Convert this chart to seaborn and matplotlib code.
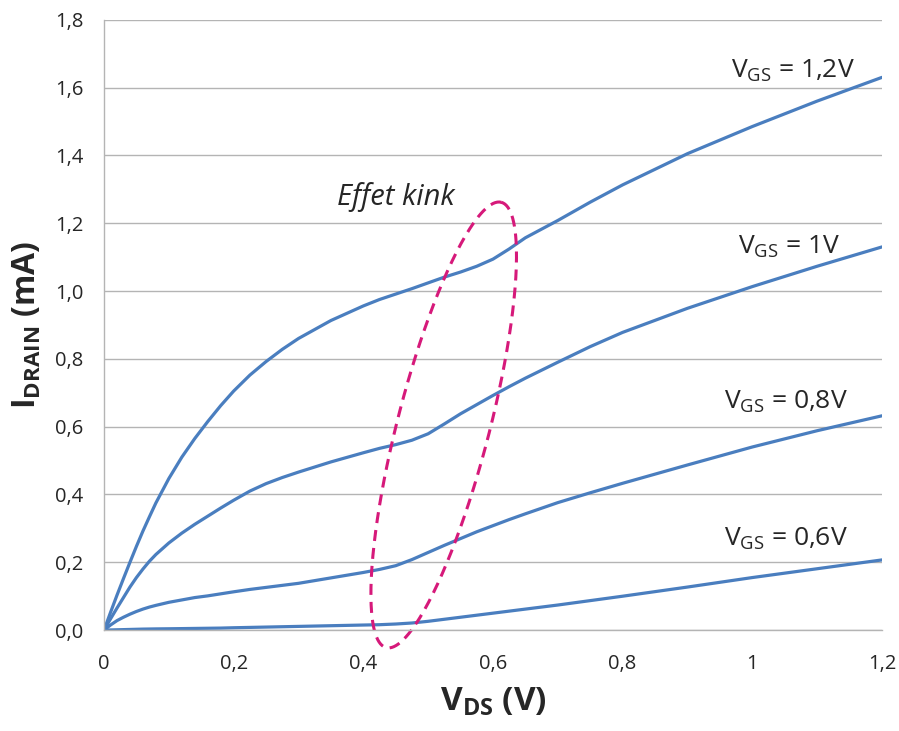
import numpy as np
import pandas as pd
import matplotlib
matplotlib.use('Agg')
import matplotlib.pyplot as plt
import seaborn as sns

# Drain current curves (mA), one list per gate voltage
vds = [0, 0.01, 0.02, 0.03, 0.04, 0.05, 0.06, 0.07, 0.08, 0.1, 0.12, 0.14, 0.16, 0.18,
       0.2, 0.225, 0.25, 0.275, 0.3, 0.35, 0.4, 0.425, 0.45, 0.475, 0.5, 0.525, 0.55,
       0.575, 0.6, 0.625, 0.65, 0.7, 0.75, 0.8, 0.9, 1.0, 1.1, 1.2]
id_12 = [0, 0.052, 0.103, 0.152, 0.2, 0.247, 0.292, 0.334, 0.375, 0.447, 0.51, 0.565,
         0.615, 0.662, 0.705, 0.752, 0.792, 0.828, 0.86, 0.913, 0.956, 0.975, 0.991,
         1.007, 1.024, 1.041, 1.056, 1.073, 1.094, 1.124, 1.157, 1.208, 1.262, 1.313,
         1.405, 1.485, 1.56, 1.63]
id_10 = [0, 0.033, 0.065, 0.096, 0.127, 0.155, 0.18, 0.203, 0.223, 0.257, 0.286, 0.312,
         0.336, 0.36, 0.383, 0.41, 0.432, 0.45, 0.466, 0.496, 0.523, 0.536, 0.547,
         0.56, 0.579, 0.608, 0.638, 0.665, 0.692, 0.718, 0.743, 0.79, 0.836, 0.878,
         0.949, 1.013, 1.073, 1.13]
id_08 = [0, 0.015, 0.028, 0.038, 0.047, 0.055, 0.062, 0.068, 0.073, 0.082, 0.089, 0.096,
         0.101, 0.107, 0.113, 0.12, 0.126, 0.132, 0.138, 0.154, 0.17, 0.179, 0.19,
         0.208, 0.229, 0.25, 0.27, 0.29, 0.308, 0.326, 0.343, 0.376, 0.405, 0.433,
         0.487, 0.54, 0.588, 0.632]
id_06 = [0, 0.0005, 0.001, 0.0015, 0.002, 0.0025, 0.003, 0.0033, 0.0036, 0.004, 0.0045,
         0.005, 0.0055, 0.006, 0.007, 0.008, 0.009, 0.01, 0.011, 0.013, 0.015, 0.016,
         0.018, 0.021, 0.026, 0.032, 0.038, 0.044, 0.05, 0.056, 0.062, 0.074, 0.087,
         0.1, 0.127, 0.155, 0.181, 0.207]

curve_labels = ['1,2V', '1V', '0,8V', '0,6V']
label_x = [1.158, 1.135, 1.148, 1.148]
label_y = [1.629, 1.112, 0.655, 0.251]

x_ticks = [0, 0.2, 0.4, 0.6, 0.8, 1.0, 1.2]
x_ticklabels = ['0', '0,2', '0,4', '0,6', '0,8', '1', '1,2']
y_ticks = [0, 0.2, 0.4, 0.6, 0.8, 1.0, 1.2, 1.4, 1.6, 1.8]
y_ticklabels = ['0,0', '0,2', '0,4', '0,6', '0,8', '1,0', '1,2', '1,4', '1,6', '1,8']

df = pd.DataFrame({'vds': vds * 4,
                   'id': id_12 + id_10 + id_08 + id_06,
                   'vgs': sum([[l] * len(vds) for l in curve_labels], [])})

sns.set_theme(style='white')
plt.rcParams['font.family'] = ['Open Sans', 'DejaVu Sans']
plt.rcParams['mathtext.fontset'] = 'custom'
plt.rcParams['mathtext.rm'] = 'Open Sans'
plt.rcParams['mathtext.bf'] = 'Open Sans:bold'

blue = '#4a7ebf'
gray = '#b4b4b4'
txt = '#262626'

fig = plt.figure(figsize=(8.99, 7.31), dpi=100)
ax = fig.add_axes([0.1157, 0.138, 0.8653, 0.835])

sns.lineplot(data=df, x='vds', y='id', units='vgs', estimator=None,
             color=blue, linewidth=2.3, ax=ax, legend=False, sort=False)

ax.set_xlim(0, 1.2)
ax.set_ylim(0, 1.8)
ax.set_xticks(x_ticks)
ax.set_xticklabels(x_ticklabels)
ax.set_yticks(y_ticks)
ax.set_yticklabels(y_ticklabels)
ax.tick_params(axis='both', labelsize=14.5, colors=txt, length=7, width=1,
               direction='out', pad=8)
ax.tick_params(axis='x', color=gray, pad=10)
ax.tick_params(axis='y', color=gray)
ax.yaxis.grid(True, color=gray, linewidth=1)
ax.xaxis.grid(False)
for s in ['top', 'right']:
    ax.spines[s].set_visible(False)
for s in ['left', 'bottom']:
    ax.spines[s].set_color(gray)
    ax.spines[s].set_linewidth(1)

ax.set_xlabel(r'V$_{\mathbf{DS}}$ (V)', fontsize=24, fontweight='bold', color=txt, labelpad=8)
ax.set_ylabel(r'I$_{\mathbf{DRAIN}}$ (mA)', fontsize=23, fontweight='bold', color=txt, labelpad=8)

for lab, lx, ly in zip(curve_labels, label_x, label_y):
    ax.text(lx, ly, r'V$_{\mathrm{GS}}$ = ' + lab, fontsize=19, color=txt,
            ha='right', va='baseline')

ax.text(0.359, 1.254, 'Effet kink', fontsize=21, style='italic', color=txt,
        ha='left', va='baseline')

# dashed ellipse around the kink region, sized in pixels
center = (0.524, 0.605)
semi_major, semi_minor, angle = 230, 46, np.deg2rad(75.5)
t = np.linspace(0, 2 * np.pi, 300)
u = semi_major * np.cos(t)
v = semi_minor * np.sin(t)
dx = u * np.cos(angle) - v * np.sin(angle)
dy = u * np.sin(angle) + v * np.cos(angle)
c_disp = ax.transData.transform(center)
pts = ax.transData.inverted().transform(np.column_stack([c_disp[0] + dx, c_disp[1] + dy]))
ax.plot(pts[:, 0], pts[:, 1], color='#d6197a', linewidth=2.2, linestyle=(0, (3.6, 2.3)),
        clip_on=False)

fig.savefig('out.png', dpi=100)
